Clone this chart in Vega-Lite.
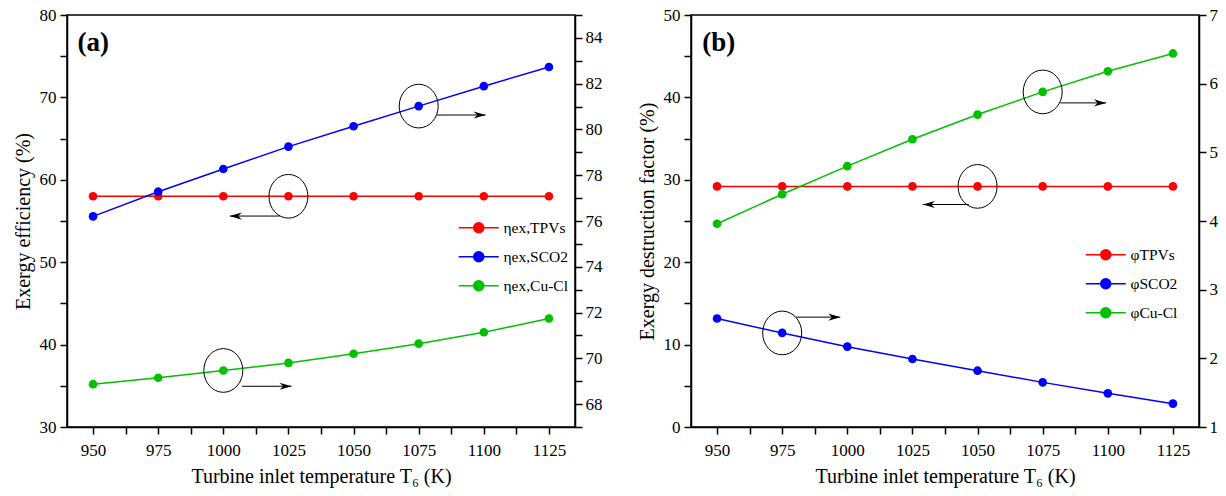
{
  "$schema": "https://vega.github.io/schema/vega-lite/v6.json",
  "padding": {"left": 12, "top": 5, "right": 5, "bottom": 5},
  "bounds": "flush",
  "spacing": 116,
  "config": {
    "font": "Liberation Serif",
    "view": {"stroke": "black", "strokeWidth": 1.5},
    "axis": {
      "domainColor": "black", "domainWidth": 1.5, "tickColor": "black", "tickWidth": 1.5, "tickSize": 7,
      "labelFont": "Liberation Serif", "labelFontSize": 17, "labelColor": "black", "labelPadding": 4,
      "titleFont": "Liberation Serif", "titleFontSize": 20, "titleFontWeight": "normal", "titleColor": "black",
      "grid": false, "labelOverlap": false, "labelFlush": false, "tickCount": 100
    },
    "legend": {
      "orient": "none", "title": null,
      "symbolType": "M-4,0L4,0M1,0A1,1 0 1,1 -1,0A1,1 0 1,1 1,0Z",
      "symbolSize": 100, "symbolStrokeWidth": 1.5,
      "labelFont": "Liberation Serif", "labelFontSize": 15.5, "labelColor": "black",
      "labelOffset": 17, "rowPadding": 11
    }
  },
  "datasets": {
    "a": [
      {"T": 950, "series": "TPVs", "v": 58.0}, {"T": 975, "series": "TPVs", "v": 58.0},
      {"T": 1000, "series": "TPVs", "v": 58.0}, {"T": 1025, "series": "TPVs", "v": 58.0},
      {"T": 1050, "series": "TPVs", "v": 58.0}, {"T": 1075, "series": "TPVs", "v": 58.0},
      {"T": 1100, "series": "TPVs", "v": 58.0}, {"T": 1125, "series": "TPVs", "v": 58.0},
      {"T": 950, "series": "SCO2", "v": 76.2}, {"T": 975, "series": "SCO2", "v": 77.28},
      {"T": 1000, "series": "SCO2", "v": 78.27}, {"T": 1025, "series": "SCO2", "v": 79.25},
      {"T": 1050, "series": "SCO2", "v": 80.14}, {"T": 1075, "series": "SCO2", "v": 81.02},
      {"T": 1100, "series": "SCO2", "v": 81.89}, {"T": 1125, "series": "SCO2", "v": 82.73},
      {"T": 950, "series": "Cu-Cl", "v": 68.87}, {"T": 975, "series": "Cu-Cl", "v": 69.15},
      {"T": 1000, "series": "Cu-Cl", "v": 69.47}, {"T": 1025, "series": "Cu-Cl", "v": 69.8},
      {"T": 1050, "series": "Cu-Cl", "v": 70.2}, {"T": 1075, "series": "Cu-Cl", "v": 70.64},
      {"T": 1100, "series": "Cu-Cl", "v": 71.14}, {"T": 1125, "series": "Cu-Cl", "v": 71.74}
    ],
    "b": [
      {"T": 950, "series": "TPVs", "v": 29.2}, {"T": 975, "series": "TPVs", "v": 29.2},
      {"T": 1000, "series": "TPVs", "v": 29.2}, {"T": 1025, "series": "TPVs", "v": 29.2},
      {"T": 1050, "series": "TPVs", "v": 29.2}, {"T": 1075, "series": "TPVs", "v": 29.2},
      {"T": 1100, "series": "TPVs", "v": 29.2}, {"T": 1125, "series": "TPVs", "v": 29.2},
      {"T": 950, "series": "SCO2", "v": 2.58}, {"T": 975, "series": "SCO2", "v": 2.37},
      {"T": 1000, "series": "SCO2", "v": 2.17}, {"T": 1025, "series": "SCO2", "v": 1.99},
      {"T": 1050, "series": "SCO2", "v": 1.82}, {"T": 1075, "series": "SCO2", "v": 1.65},
      {"T": 1100, "series": "SCO2", "v": 1.49}, {"T": 1125, "series": "SCO2", "v": 1.34},
      {"T": 950, "series": "Cu-Cl", "v": 3.96}, {"T": 975, "series": "Cu-Cl", "v": 4.39},
      {"T": 1000, "series": "Cu-Cl", "v": 4.8}, {"T": 1025, "series": "Cu-Cl", "v": 5.19},
      {"T": 1050, "series": "Cu-Cl", "v": 5.55}, {"T": 1075, "series": "Cu-Cl", "v": 5.88},
      {"T": 1100, "series": "Cu-Cl", "v": 6.18}, {"T": 1125, "series": "Cu-Cl", "v": 6.44}
    ],
    "annA": [
      {"side": "L", "T": 1025, "v": 58.0, "x1": 1021.6, "x2": 1002.5, "ya": 55.6},
      {"side": "R", "T": 1075, "v": 81.02, "x1": 1081.9, "x2": 1100.7, "ya": 80.63},
      {"side": "R", "T": 1000, "v": 69.47, "x1": 1007.2, "x2": 1026.2, "ya": 68.78}
    ],
    "annB": [
      {"side": "L", "T": 1050, "v": 29.2, "x1": 1046.6, "x2": 1029, "ya": 27.0},
      {"side": "R", "T": 1075, "v": 5.88, "x1": 1081.8, "x2": 1099.3, "ya": 5.72},
      {"side": "R", "T": 975, "v": 2.37, "x1": 980.3, "x2": 997.3, "ya": 2.6}
    ]
  },
  "hconcat": [
    {
      "width": 508, "height": 412,
      "layer": [
        {
          "layer": [
            {
              "data": {"name": "a"},
              "transform": [{"filter": "datum.series === 'TPVs'"}],
              "mark": {"type": "line", "strokeWidth": 1.5},
              "encoding": {
                "x": {"field": "T", "type": "quantitative", "scale": {"domain": [940, 1135], "nice": false, "zero": false},
                      "axis": {"title": "Turbine inlet temperature T₆ (K)", "tickCount": 100, "values": [950, 962.5, 975, 987.5, 1000, 1012.5, 1025, 1037.5, 1050, 1062.5, 1075, 1087.5, 1100, 1112.5, 1125], "format": "d", "labelExpr": "datum.value % 25 === 0 ? datum.label : ''", "labelPadding": 8, "titlePadding": 8}},
                "y": {"field": "v", "type": "quantitative", "scale": {"domain": [30, 80], "nice": false, "zero": false},
                      "axis": {"title": "Exergy efficiency (%)", "orient": "left", "tickCount": 100, "values": [30, 35, 40, 45, 50, 55, 60, 65, 70, 75, 80], "format": "d", "labelExpr": "datum.value % 10 === 0 ? datum.label : ''", "titlePadding": 6}},
                "color": {"field": "series", "type": "nominal",
                          "scale": {"domain": ["TPVs", "SCO2", "Cu-Cl"], "range": ["#ff0000", "#0000ff", "#00c000"]},
                          "legend": {"legendX": 404, "legendY": 205, "labelExpr": "'ηex,' + datum.label",
                                     "encode": {"symbols": {"update": {
                                       "fill": {"signal": "datum.value === 'TPVs' ? '#ff0000' : datum.value === 'SCO2' ? '#0000ff' : '#00c000'"},
                                       "stroke": {"signal": "datum.value === 'TPVs' ? '#ff0000' : datum.value === 'SCO2' ? '#0000ff' : '#00c000'"},
                                       "opacity": {"value": 1}}}}}}
              }
            },
            {
              "data": {"name": "a"},
              "transform": [{"filter": "datum.series === 'TPVs'"}],
              "mark": {"type": "point", "filled": true, "size": 75, "opacity": 1},
              "encoding": {
                "x": {"field": "T", "type": "quantitative"},
                "y": {"field": "v", "type": "quantitative"},
                "color": {"field": "series", "type": "nominal"}
              }
            },
            {
              "data": {"name": "annA"},
              "transform": [{"filter": "datum.side === 'L'"}],
              "mark": {"type": "point", "shape": "M0,-1.12A1,1.12 0 1,1 0,1.12A1,1.12 0 1,1 0,-1.12Z", "size": 1521, "filled": false, "stroke": "black", "strokeWidth": 1, "opacity": 1},
              "encoding": {
                "x": {"field": "T", "type": "quantitative"},
                "y": {"field": "v", "type": "quantitative"}
              }
            },
            {
              "data": {"name": "annA"},
              "transform": [{"filter": "datum.side === 'L'"}],
              "mark": {"type": "rule", "color": "black", "strokeWidth": 1},
              "encoding": {
                "x": {"field": "x1", "type": "quantitative"},
                "x2": {"field": "x2"},
                "y": {"field": "ya", "type": "quantitative"}
              }
            },
            {
              "data": {"name": "annA"},
              "transform": [{"filter": "datum.side === 'L'"}],
              "mark": {"type": "point", "shape": "M0,0L2,-0.6L1.4,0L2,0.6Z", "size": 144, "filled": true, "color": "black", "opacity": 1},
              "encoding": {
                "x": {"field": "x2", "type": "quantitative"},
                "y": {"field": "ya", "type": "quantitative"}
              }
            },
            {
              "data": {"values": [{"label": "(a)"}]},
              "mark": {"type": "text", "font": "Liberation Serif", "fontSize": 27, "fontWeight": "bold", "align": "left", "baseline": "middle", "color": "black"},
              "encoding": {
                "x": {"datum": 944, "type": "quantitative"},
                "y": {"datum": 76.6, "type": "quantitative"},
                "text": {"field": "label"}
              }
            }
          ]
        },
        {
          "layer": [
            {
              "data": {"name": "a"},
              "transform": [{"filter": "datum.series !== 'TPVs'"}],
              "mark": {"type": "line", "strokeWidth": 1.5},
              "encoding": {
                "x": {"field": "T", "type": "quantitative"},
                "y": {"field": "v", "type": "quantitative", "scale": {"domain": [67, 85], "nice": false, "zero": false},
                      "axis": {"title": null, "orient": "right", "tickCount": 100, "values": [67, 68, 69, 70, 71, 72, 73, 74, 75, 76, 77, 78, 79, 80, 81, 82, 83, 84, 85], "format": "d", "labelExpr": "datum.value % 2 == 0 ? datum.label : ''", "labelPadding": 3}},
                "color": {"field": "series", "type": "nominal"},
                "detail": {"field": "series"}
              }
            },
            {
              "data": {"name": "a"},
              "transform": [{"filter": "datum.series !== 'TPVs'"}],
              "mark": {"type": "point", "filled": true, "size": 75, "opacity": 1},
              "encoding": {
                "x": {"field": "T", "type": "quantitative"},
                "y": {"field": "v", "type": "quantitative"},
                "color": {"field": "series", "type": "nominal"}
              }
            },
            {
              "data": {"name": "annA"},
              "transform": [{"filter": "datum.side === 'R'"}],
              "mark": {"type": "point", "shape": "M0,-1.12A1,1.12 0 1,1 0,1.12A1,1.12 0 1,1 0,-1.12Z", "size": 1521, "filled": false, "stroke": "black", "strokeWidth": 1, "opacity": 1},
              "encoding": {
                "x": {"field": "T", "type": "quantitative"},
                "y": {"field": "v", "type": "quantitative"}
              }
            },
            {
              "data": {"name": "annA"},
              "transform": [{"filter": "datum.side === 'R'"}],
              "mark": {"type": "rule", "color": "black", "strokeWidth": 1},
              "encoding": {
                "x": {"field": "x1", "type": "quantitative"},
                "x2": {"field": "x2"},
                "y": {"field": "ya", "type": "quantitative"}
              }
            },
            {
              "data": {"name": "annA"},
              "transform": [{"filter": "datum.side === 'R'"}],
              "mark": {"type": "point", "shape": "M0,0L-2,-0.6L-1.4,0L-2,0.6Z", "size": 144, "filled": true, "color": "black", "opacity": 1},
              "encoding": {
                "x": {"field": "x2", "type": "quantitative"},
                "y": {"field": "ya", "type": "quantitative"}
              }
            }
          ]
        }
      ],
      "resolve": {"scale": {"y": "independent"}}
    },
    {
      "width": 508, "height": 412,
      "layer": [
        {
          "layer": [
            {
              "data": {"name": "b"},
              "transform": [{"filter": "datum.series === 'TPVs'"}],
              "mark": {"type": "line", "strokeWidth": 1.5},
              "encoding": {
                "x": {"field": "T", "type": "quantitative", "scale": {"domain": [940, 1135], "nice": false, "zero": false},
                      "axis": {"title": "Turbine inlet temperature T₆ (K)", "tickCount": 100, "values": [950, 962.5, 975, 987.5, 1000, 1012.5, 1025, 1037.5, 1050, 1062.5, 1075, 1087.5, 1100, 1112.5, 1125], "format": "d", "labelExpr": "datum.value % 25 === 0 ? datum.label : ''", "labelPadding": 8, "titlePadding": 8}},
                "y": {"field": "v", "type": "quantitative", "scale": {"domain": [0, 50], "nice": false, "zero": false},
                      "axis": {"title": "Exergy destruction factor (%)", "orient": "left", "tickCount": 100, "values": [0, 5, 10, 15, 20, 25, 30, 35, 40, 45, 50], "format": "d", "labelExpr": "datum.value % 10 === 0 ? datum.label : ''", "titlePadding": 6}},
                "color": {"field": "series", "type": "nominal",
                          "scale": {"domain": ["TPVs", "SCO2", "Cu-Cl"], "range": ["#ff0000", "#0000ff", "#00c000"]},
                          "legend": {"legendX": 407, "legendY": 232, "labelExpr": "'φ' + datum.label",
                                     "encode": {"symbols": {"update": {
                                       "fill": {"signal": "datum.value === 'TPVs' ? '#ff0000' : datum.value === 'SCO2' ? '#0000ff' : '#00c000'"},
                                       "stroke": {"signal": "datum.value === 'TPVs' ? '#ff0000' : datum.value === 'SCO2' ? '#0000ff' : '#00c000'"},
                                       "opacity": {"value": 1}}}}}}
              }
            },
            {
              "data": {"name": "b"},
              "transform": [{"filter": "datum.series === 'TPVs'"}],
              "mark": {"type": "point", "filled": true, "size": 75, "opacity": 1},
              "encoding": {
                "x": {"field": "T", "type": "quantitative"},
                "y": {"field": "v", "type": "quantitative"},
                "color": {"field": "series", "type": "nominal"}
              }
            },
            {
              "data": {"name": "annB"},
              "transform": [{"filter": "datum.side === 'L'"}],
              "mark": {"type": "point", "shape": "M0,-1.12A1,1.12 0 1,1 0,1.12A1,1.12 0 1,1 0,-1.12Z", "size": 1521, "filled": false, "stroke": "black", "strokeWidth": 1, "opacity": 1},
              "encoding": {
                "x": {"field": "T", "type": "quantitative"},
                "y": {"field": "v", "type": "quantitative"}
              }
            },
            {
              "data": {"name": "annB"},
              "transform": [{"filter": "datum.side === 'L'"}],
              "mark": {"type": "rule", "color": "black", "strokeWidth": 1},
              "encoding": {
                "x": {"field": "x1", "type": "quantitative"},
                "x2": {"field": "x2"},
                "y": {"field": "ya", "type": "quantitative"}
              }
            },
            {
              "data": {"name": "annB"},
              "transform": [{"filter": "datum.side === 'L'"}],
              "mark": {"type": "point", "shape": "M0,0L2,-0.6L1.4,0L2,0.6Z", "size": 144, "filled": true, "color": "black", "opacity": 1},
              "encoding": {
                "x": {"field": "x2", "type": "quantitative"},
                "y": {"field": "ya", "type": "quantitative"}
              }
            },
            {
              "data": {"values": [{"label": "(b)"}]},
              "mark": {"type": "text", "font": "Liberation Serif", "fontSize": 27, "fontWeight": "bold", "align": "left", "baseline": "middle", "color": "black"},
              "encoding": {
                "x": {"datum": 944.3, "type": "quantitative"},
                "y": {"datum": 46.6, "type": "quantitative"},
                "text": {"field": "label"}
              }
            }
          ]
        },
        {
          "layer": [
            {
              "data": {"name": "b"},
              "transform": [{"filter": "datum.series !== 'TPVs'"}],
              "mark": {"type": "line", "strokeWidth": 1.5},
              "encoding": {
                "x": {"field": "T", "type": "quantitative"},
                "y": {"field": "v", "type": "quantitative", "scale": {"domain": [1, 7], "nice": false, "zero": false},
                      "axis": {"title": null, "orient": "right", "tickCount": 100, "values": [1, 1.5, 2, 2.5, 3, 3.5, 4, 4.5, 5, 5.5, 6, 6.5, 7], "format": "d", "labelExpr": "datum.value % 1 === 0 ? datum.label : ''", "labelPadding": 3}},
                "color": {"field": "series", "type": "nominal"},
                "detail": {"field": "series"}
              }
            },
            {
              "data": {"name": "b"},
              "transform": [{"filter": "datum.series !== 'TPVs'"}],
              "mark": {"type": "point", "filled": true, "size": 75, "opacity": 1},
              "encoding": {
                "x": {"field": "T", "type": "quantitative"},
                "y": {"field": "v", "type": "quantitative"},
                "color": {"field": "series", "type": "nominal"}
              }
            },
            {
              "data": {"name": "annB"},
              "transform": [{"filter": "datum.side === 'R'"}],
              "mark": {"type": "point", "shape": "M0,-1.12A1,1.12 0 1,1 0,1.12A1,1.12 0 1,1 0,-1.12Z", "size": 1521, "filled": false, "stroke": "black", "strokeWidth": 1, "opacity": 1},
              "encoding": {
                "x": {"field": "T", "type": "quantitative"},
                "y": {"field": "v", "type": "quantitative"}
              }
            },
            {
              "data": {"name": "annB"},
              "transform": [{"filter": "datum.side === 'R'"}],
              "mark": {"type": "rule", "color": "black", "strokeWidth": 1},
              "encoding": {
                "x": {"field": "x1", "type": "quantitative"},
                "x2": {"field": "x2"},
                "y": {"field": "ya", "type": "quantitative"}
              }
            },
            {
              "data": {"name": "annB"},
              "transform": [{"filter": "datum.side === 'R'"}],
              "mark": {"type": "point", "shape": "M0,0L-2,-0.6L-1.4,0L-2,0.6Z", "size": 144, "filled": true, "color": "black", "opacity": 1},
              "encoding": {
                "x": {"field": "x2", "type": "quantitative"},
                "y": {"field": "ya", "type": "quantitative"}
              }
            }
          ]
        }
      ],
      "resolve": {"scale": {"y": "independent"}}
    }
  ],
  "resolve": {"scale": {"color": "independent"}, "legend": {"color": "independent"}}
}
